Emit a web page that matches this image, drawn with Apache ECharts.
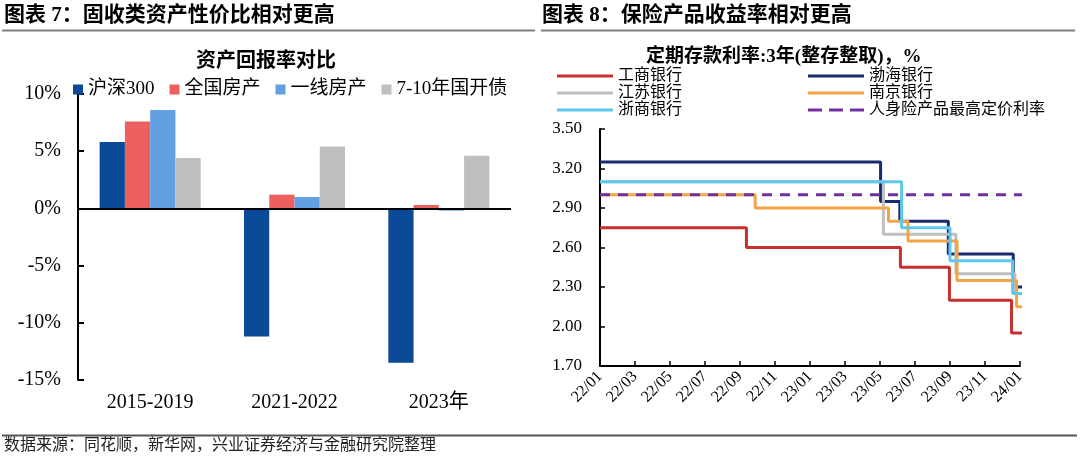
<!DOCTYPE html>
<html>
<head>
<meta charset="utf-8">
<script src="https://cdn.jsdelivr.net/npm/echarts@6/dist/echarts.min.js"></script>
<style>
  html, body { margin: 0; padding: 0; background: #fff; }
  #chart { width: 1080px; height: 459px; }
</style>
</head>
<body>
<div id="chart"></div>
<script>
// ---- left panel: asset returns (%)
const periods = ['2015-2019', '2021-2022', '2023年'];
const hs300 = [5.8, -11.2, -13.5];
const nationalHouse = [7.6, 1.2, 0.3];
const tier1House = [8.6, 1.0, -0.2];
const cdbBond = [4.4, 5.4, 4.6];

// ---- right panel: 3y deposit rates, change dates and rates
const monthLabels = ['22/01', '22/03', '22/05', '22/07', '22/09', '22/11',
  '23/01', '23/03', '23/05', '23/07', '23/09', '23/11', '24/01'];

const icbcDates = ['2022-01-01', '2022-09-12', '2023-06-06', '2023-08-31', '2023-12-17', '2024-01-06'];
const icbcRates = [2.75, 2.60, 2.45, 2.20, 1.95, 1.95];

const bohaiDates = ['2022-01-01', '2023-05-02', '2023-06-05', '2023-08-29', '2023-12-20', '2024-01-06'];
const bohaiRates = [3.25, 2.95, 2.80, 2.55, 2.30, 2.30];

const jiangsuDates = ['2022-01-01', '2023-05-07', '2023-09-11', '2023-12-23', '2024-01-06'];
const jiangsuRates = [3.10, 2.70, 2.40, 2.25, 2.25];

const nanjingDates = ['2022-01-01', '2022-09-27', '2023-05-16', '2023-06-19', '2023-09-13', '2023-12-26', '2024-01-06'];
const nanjingRates = [3.00, 2.90, 2.80, 2.65, 2.35, 2.15, 2.15];

const zheshangDates = ['2022-01-01', '2023-06-08', '2023-09-01', '2023-12-19', '2024-01-06'];
const zheshangRates = [3.10, 2.75, 2.50, 2.25, 2.25];

const insuranceDates = ['2022-01-01', '2024-01-06'];
const insuranceRates = [3.00, 3.00];

const chart = echarts.init(document.getElementById('chart'));

const serif = '"Liberation Serif", "Noto Sans CJK SC", serif';
const colors = {
  hs300: '#0B4A96',
  national: '#EE6060',
  tier1: '#62A0E2',
  bond: '#BFBFBF',
  icbc: '#C8302F',
  bohai: '#1A2A6C',
  jiangsu: '#BFBFBF',
  nanjing: '#F2A446',
  zheshang: '#5EC8EC',
  insurance: '#7030A0',
};

// month offset since 2022-01
function toMonth(s) {
  const [y, m, d] = s.split('-').map(Number);
  const days = new Date(y, m, 0).getDate();
  return (y - 2022) * 12 + (m - 1) + (d - 1) / days;
}
function stepData(dates, rates) {
  return dates.map((d, i) => [toMonth(d), rates[i]]);
}

const rateLines = [
  { name: '工商银行', dates: icbcDates, rates: icbcRates, color: colors.icbc },
  { name: '渤海银行', dates: bohaiDates, rates: bohaiRates, color: colors.bohai },
  { name: '江苏银行', dates: jiangsuDates, rates: jiangsuRates, color: colors.jiangsu },
  { name: '南京银行', dates: nanjingDates, rates: nanjingRates, color: colors.nanjing },
  { name: '浙商银行', dates: zheshangDates, rates: zheshangRates, color: colors.zheshang },
  { name: '人身险产品最高定价利率', dates: insuranceDates, rates: insuranceRates, color: colors.insurance, dashed: true },
];

const barSeries = [
  { name: '沪深300', data: hs300, color: colors.hs300 },
  { name: '全国房产', data: nationalHouse, color: colors.national },
  { name: '一线房产', data: tier1House, color: colors.tier1 },
  { name: '7-10年国开债', data: cdbBond, color: colors.bond },
].map((s, i) => ({
  name: s.name,
  type: 'bar',
  xAxisIndex: 0,
  yAxisIndex: 0,
  data: s.data,
  barGap: '0%',
  barCategoryGap: '30%',
  itemStyle: { color: s.color },
  markLine: i === 0 ? {
    silent: true,
    symbol: ['none', 'none'],
    label: { show: false },
    lineStyle: { color: '#000', width: 2, type: 'solid' },
    data: [{ yAxis: 0 }],
  } : undefined,
}));

const lineSeries = rateLines.map((s) => ({
  name: s.name,
  type: 'line',
  xAxisIndex: 1,
  yAxisIndex: 1,
  step: 'end',
  symbol: 'none',
  clip: false,
  data: stepData(s.dates, s.rates),
  itemStyle: { color: s.color },
  lineStyle: { color: s.color, width: 3, type: s.dashed ? [10, 8] : 'solid' },
}));

// legend samples: solid bar or three dashes
const dashIcon = 'path://M0,0h14v3h-14z M21,0h14v3h-14z M42,0h14v3h-14z';
const lineLegendItem = (name) => ({
  name,
  icon: rateLines.find((s) => s.name === name).dashed ? dashIcon : 'rect',
});

const axisText = { color: '#000', fontFamily: serif };

const options = {
  animation: false,
  backgroundColor: '#fff',
  title: [
    {
      text: '资产回报率对比',
      left: 196, top: 52, padding: 0,
      textStyle: { fontSize: 20, fontWeight: 'bold', fontFamily: serif, color: '#000' },
    },
    {
      text: '定期存款利率:3年(整存整取)，%',
      left: 646, top: 48, padding: 0,
      textStyle: { fontSize: 19, fontWeight: 'bold', fontFamily: serif, color: '#000' },
    },
  ],
  legend: [
    {
      left: 73, top: 80, padding: 0,
      icon: 'rect', itemWidth: 10, itemHeight: 10, itemGap: 15,
      data: barSeries.map((s) => s.name),
      textStyle: { fontSize: 19, ...axisText },
    },
    {
      left: 557, top: 68, padding: 0, orient: 'vertical',
      itemWidth: 56, itemHeight: 3, itemGap: 1,
      data: ['工商银行', '江苏银行', '浙商银行'].map(lineLegendItem),
      textStyle: { fontSize: 16, ...axisText },
    },
    {
      left: 808, top: 68, padding: 0, orient: 'vertical',
      itemWidth: 56, itemHeight: 3, itemGap: 1,
      data: ['渤海银行', '南京银行', '人身险产品最高定价利率'].map(lineLegendItem),
      textStyle: { fontSize: 16, ...axisText },
    },
  ],
  grid: [
    { left: 78, top: 94, width: 433, height: 286 },
    { left: 600, top: 129, width: 420, height: 237 },
  ],
  xAxis: [
    {
      type: 'category',
      gridIndex: 0,
      data: periods,
      axisLine: { show: false, onZero: false },
      axisTick: { show: false },
      axisLabel: { fontSize: 20, margin: 13, ...axisText },
    },
    {
      type: 'value',
      gridIndex: 1,
      min: 0, max: 24, interval: 2,
      splitLine: { show: false },
      axisLine: { show: true, lineStyle: { color: '#000', width: 2 } },
      axisTick: { show: true, inside: true, length: 5, lineStyle: { color: '#000', width: 1.5 } },
      axisLabel: {
        rotate: 45, margin: 8, fontSize: 16, ...axisText,
        formatter: (v) => monthLabels[Math.round(v / 2)],
      },
    },
  ],
  yAxis: [
    {
      type: 'value',
      gridIndex: 0,
      min: -15, max: 10, interval: 5,
      splitLine: { show: false },
      axisLine: { show: true, lineStyle: { color: '#000', width: 2 } },
      axisTick: { show: true, inside: true, length: 6, lineStyle: { color: '#000', width: 2 } },
      axisLabel: { fontSize: 20, margin: 17, formatter: '{value}%', ...axisText },
    },
    {
      type: 'value',
      gridIndex: 1,
      min: 1.7, max: 3.5, interval: 0.3,
      splitLine: { show: false },
      axisLine: { show: true, lineStyle: { color: '#000', width: 2 } },
      axisTick: { show: true, inside: true, length: 5, lineStyle: { color: '#000', width: 1.5 } },
      axisLabel: { fontSize: 17, margin: 18, formatter: (v) => v.toFixed(2), ...axisText },
    },
  ],
  graphic: [
    {
      type: 'text', left: 4, top: 5,
      style: { text: '图表 7：固收类资产性价比相对更高', fontSize: 21, fontWeight: 'bold', fontFamily: serif, fill: '#000' },
    },
    {
      type: 'text', left: 542, top: 5,
      style: { text: '图表 8：保险产品收益率相对更高', fontSize: 21, fontWeight: 'bold', fontFamily: serif, fill: '#000' },
    },
    {
      type: 'line',
      shape: { x1: 2, y1: 30.5, x2: 535, y2: 30.5 },
      style: { stroke: '#808080', lineWidth: 2 },
    },
    {
      type: 'line',
      shape: { x1: 541, y1: 30.5, x2: 1075, y2: 30.5 },
      style: { stroke: '#808080', lineWidth: 2 },
    },
    {
      type: 'line',
      shape: { x1: 2, y1: 435.5, x2: 1077, y2: 435.5 },
      style: { stroke: '#555', lineWidth: 2 },
    },
    {
      type: 'text', left: 4, top: 438,
      style: { text: '数据来源：同花顺，新华网，兴业证券经济与金融研究院整理', fontSize: 16, fontFamily: serif, fill: '#222' },
    },
  ],
  series: [...barSeries, ...lineSeries],
};

chart.setOption(options);
</script>
</body>
</html>
